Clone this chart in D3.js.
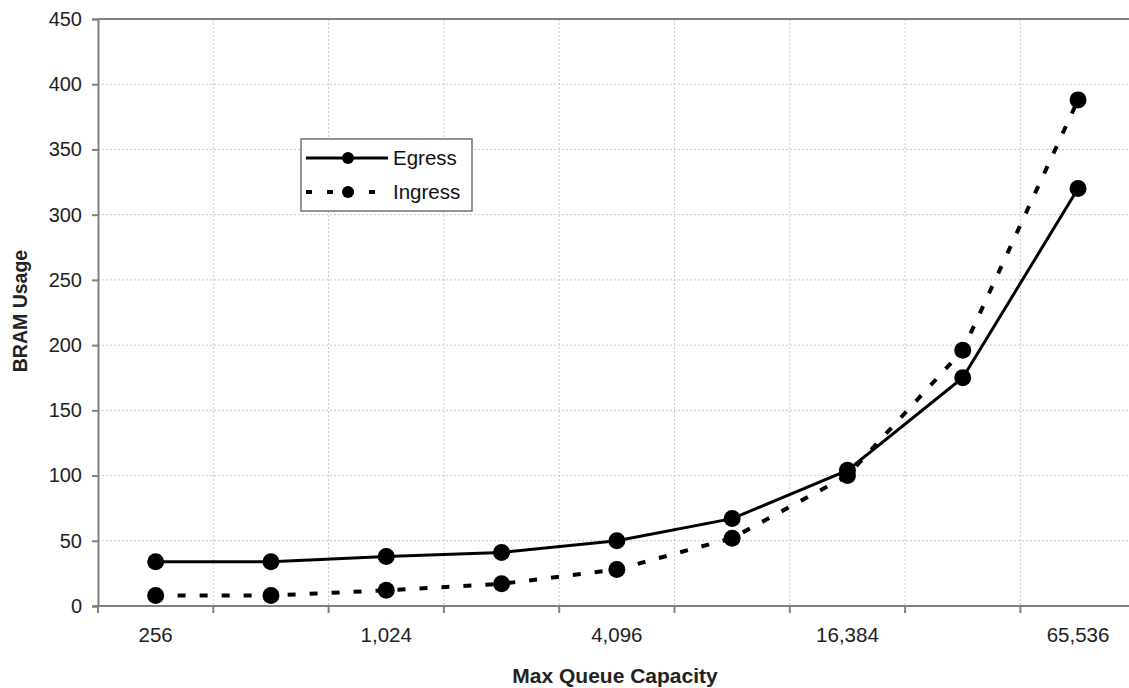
<!DOCTYPE html>
<html><head><meta charset="utf-8">
<script src="https://cdn.jsdelivr.net/npm/d3@7"></script>
<style>body{margin:0;background:#fff;} text{font-family:"Liberation Sans",Arial,sans-serif;}</style>
</head><body>
<svg id="c" width="1129" height="688"></svg>
<script>
const categories = ["256","512","1,024","2,048","4,096","8,192","16,384","32,768","65,536"];
const shownLabels = ["256","1,024","4,096","16,384","65,536"];
const egress = [34, 34, 38, 41, 50, 67, 104, 175, 320];
const ingress = [8, 8, 12, 17, 28, 52, 100, 196, 388];
const yTicks = [0,50,100,150,200,250,300,350,400,450];

(function(){
const svg = d3.select("#c");
const mLeft = 98, mTop = 19, mBottom = 606, band = 115.3;
const x = d3.scaleBand().domain(categories).range([mLeft, mLeft + band*categories.length]).padding(0);
const y = d3.scaleLinear().domain([0,450]).range([mBottom, mTop]);
const cx = d => x(d) + x.bandwidth()/2;

// grid
const g = svg.append("g");
yTicks.slice(1).forEach(t => g.append("line").attr("x1",mLeft).attr("x2",1129).attr("y1",y(t)).attr("y2",y(t))
  .attr("stroke","#c8c8c8").attr("stroke-width",1).attr("stroke-dasharray","2,2"));
categories.slice(1).forEach(c => g.append("line").attr("x1",x(c)).attr("x2",x(c)).attr("y1",mTop).attr("y2",mBottom)
  .attr("stroke","#c8c8c8").attr("stroke-width",1).attr("stroke-dasharray","2,2"));
// top border
svg.append("line").attr("x1",mLeft).attr("x2",1129).attr("y1",mTop).attr("y2",mTop).attr("stroke","#808080").attr("stroke-width",2);

// y axis
const ya = svg.append("g").attr("transform",`translate(${mLeft},0)`)
  .call(d3.axisLeft(y).tickValues(yTicks).tickSize(6).tickPadding(10));
ya.select(".domain").attr("stroke","#808080").attr("stroke-width",2);
ya.selectAll(".tick line").attr("stroke","#808080").attr("stroke-width",2);
ya.selectAll("text").attr("font-size",20).attr("fill","#222").attr("font-family","Liberation Sans, Arial, sans-serif");

// x axis: ticks at category boundaries
const xa = svg.append("g").attr("transform",`translate(0,${mBottom})`);
xa.append("line").attr("x1",mLeft-4).attr("x2",1129).attr("y1",0).attr("y2",0).attr("stroke","#808080").attr("stroke-width",2);
categories.forEach(c => xa.append("line").attr("x1",x(c)).attr("x2",x(c)).attr("y1",0).attr("y2",7).attr("stroke","#808080").attr("stroke-width",2));
shownLabels.forEach(c => xa.append("text").attr("x",cx(c)).attr("y",36).attr("text-anchor","middle")
  .attr("font-size",20.5).attr("fill","#222").text(c));

// titles
svg.append("text").attr("x",615).attr("y",683).attr("text-anchor","middle").attr("font-size",21).attr("font-weight","bold").attr("fill","#222").text("Max Queue Capacity");
svg.append("text").attr("transform","translate(27,311) rotate(-90)").attr("text-anchor","middle").attr("font-size",19.5).attr("font-weight","bold").attr("fill","#222").text("BRAM Usage");

// lines
const line = d3.line().x((d,i)=>cx(categories[i])).y(d=>y(d));
svg.append("path").attr("d",line(ingress)).attr("fill","none").attr("stroke","#000").attr("stroke-width",4).attr("stroke-dasharray","8,14");
svg.append("path").attr("d",line(egress)).attr("fill","none").attr("stroke","#000").attr("stroke-width",3);
[ingress, egress].forEach(s => svg.append("g").selectAll("circle").data(s).join("circle")
  .attr("cx",(d,i)=>cx(categories[i])).attr("cy",d=>y(d)).attr("r",8.5).attr("fill","#000"));

// legend
const lg = svg.append("g");
lg.append("rect").attr("x",301).attr("y",139).attr("width",171).attr("height",72).attr("fill","#fff").attr("stroke","#707070").attr("stroke-width",1.5);
lg.append("line").attr("x1",306).attr("x2",388).attr("y1",158).attr("y2",158).attr("stroke","#000").attr("stroke-width",3);
lg.append("circle").attr("cx",348).attr("cy",158).attr("r",6).attr("fill","#000");
lg.append("line").attr("x1",306).attr("x2",388).attr("y1",192).attr("y2",192).attr("stroke","#000").attr("stroke-width",4).attr("stroke-dasharray","6,15");
lg.append("circle").attr("cx",348).attr("cy",192).attr("r",6).attr("fill","#000");
lg.append("text").attr("x",393).attr("y",165).attr("font-size",20.5).attr("fill","#111").text("Egress");
lg.append("text").attr("x",393).attr("y",199).attr("font-size",20.5).attr("fill","#111").text("Ingress");
})();
</script>
</body></html>
